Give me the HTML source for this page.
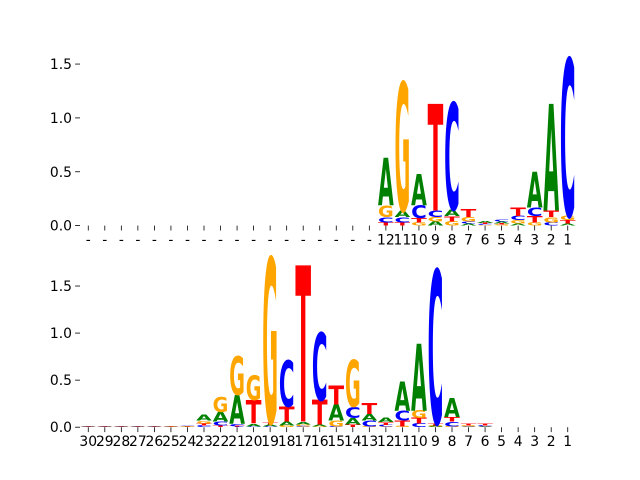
<!DOCTYPE html>
<html><head><meta charset="utf-8">
<style>
html,body{margin:0;padding:0;background:#fff;}
svg{display:block;}
.tick{font-family:"DejaVu Sans","Liberation Sans",sans-serif;font-size:13.9px;fill:#000;}
</style></head>
<body>
<svg id="chart" width="640" height="480" xmlns="http://www.w3.org/2000/svg"></svg>
<script>
const bases = ['A','C','G','T'];
const colors = {A:'#008000',C:'#0000ff',G:'#ffa500',T:'#ff0000'};

const topLabels = ['-','-','-','-','-','-','-','-','-','-','-','-','-','-','-','-','-','-','12','11','10','9','8','7','6','5','4','3','2','1'];
const topA = [0,0,0,0,0,0,0,0,0,0,0,0,0,0,0,0,0,0, 0.44,0.06,0.29,0.04,0.06,0.02,0.02,0.02,0.02,0.33,0.99,0.02];
const topC = [0,0,0,0,0,0,0,0,0,0,0,0,0,0,0,0,0,0, 0.05,0.05,0.12,0.06,0.99,0.02,0.01,0.02,0.04,0.08,0.03,1.46];
const topG = [0,0,0,0,0,0,0,0,0,0,0,0,0,0,0,0,0,0, 0.11,1.19,0.03,0.04,0.04,0.04,0.005,0.01,0.03,0.03,0.05,0.04];
const topT = [0,0,0,0,0,0,0,0,0,0,0,0,0,0,0,0,0,0, 0.03,0.03,0.04,0.99,0.05,0.07,0.01,0.01,0.08,0.06,0.06,0.03];
const topYTicks = [0,0.5,1.0,1.5];
const topYLabels = ['0.0','0.5','1.0','1.5'];

const botLabels = ['30','29','28','27','26','25','24','23','22','21','20','19','18','17','16','15','14','13','12','11','10','9','8','7','6','5','4','3','2','1'];
const botA = [0.003,0.003,0.003,0.003,0.003,0.003,0.004,0.06,0.10,0.30,0.03,0.02,0.04,0.03,0.02,0.17,0.07,0.07,0.05,0.31,0.71,0.01,0.20,0.003,0.005,0.002,0.002,0.002,0.002,0.002];
const botC = [0.003,0.003,0.003,0.003,0.003,0.004,0.006,0.02,0.04,0.03,0.01,0.01,0.49,0.01,0.72,0.01,0.12,0.06,0.02,0.10,0.04,1.63,0.05,0.004,0.01,0.002,0.002,0.002,0.002,0.002];
const botG = [0.003,0.003,0.003,0.003,0.003,0.003,0.004,0.03,0.16,0.41,0.26,1.75,0.02,0.02,0.01,0.06,0.50,0.01,0.005,0.01,0.08,0.01,0.01,0.01,0.005,0.002,0.002,0.002,0.002,0.002];
const botT = [0.003,0.003,0.003,0.003,0.003,0.004,0.004,0.02,0.02,0.01,0.25,0.02,0.16,1.66,0.26,0.20,0.03,0.12,0.03,0.06,0.06,0.02,0.05,0.02,0.02,0.002,0.002,0.002,0.002,0.002];
const botYTicks = [0,0.5,1.0,1.5];
const botYLabels = ['0.0','0.5','1.0','1.5'];

const NS='http://www.w3.org/2000/svg';
const svg=document.getElementById('chart');
const AX_L=80, AX_R=576, NPOS=30;
function xScale(i){return AX_L+(i+0.5)*(AX_R-AX_L)/NPOS;}
const step=(AX_R-AX_L)/NPOS;

function drawPanel(name,top,bottom,ymax,labels,A,C,G,T,yticks,ylabels){
  const g=document.createElementNS(NS,'g');
  
  
  svg.appendChild(g);
  const yScale=v=>bottom-v*(bottom-top)/ymax;
  for(let i=0;i<NPOS;i++){
    const vals={A:A[i],C:C[i],G:G[i],T:T[i]};
    const order=bases.slice().sort((a,b)=>vals[a]-vals[b]);
    let cum=0;
    const w=step*0.95, x0=xScale(i)-w/2;
    for(const b of order){
      const h=vals[b];
      if(h<=0){continue;}
      const yb=yScale(cum), yt=yScale(cum+h);
      const ph=yb-yt;
      cum+=h;
      const t=document.createElementNS(NS,'text');
      
      
      t.setAttribute('x',0);t.setAttribute('y',0);
      t.setAttribute('font-family','DejaVu Sans, Liberation Sans, sans-serif');
      t.setAttribute('font-weight','bold');
      t.setAttribute('font-size','100');
      t.setAttribute('textLength',w);
      t.setAttribute('lengthAdjust','spacingAndGlyphs');
      t.setAttribute('fill',colors[b]);
      t.setAttribute('transform','translate('+x0+','+yb+') scale(1,'+(ph/72.9)+')');
      t.textContent=b;
      g.appendChild(t);
    }
  }
  for(let i=0;i<NPOS;i++){
    const x=xScale(i);
    const l=document.createElementNS(NS,'line');
    
    
    l.setAttribute('x1',x);l.setAttribute('x2',x);l.setAttribute('y1',bottom);l.setAttribute('y2',bottom+4.9);
    l.setAttribute('stroke','#000');l.setAttribute('stroke-width','0.8');
    g.appendChild(l);
    const t=document.createElementNS(NS,'text');
    
    
    t.setAttribute('class','tick');
    t.setAttribute('x',x);t.setAttribute('y',bottom+19);
    t.setAttribute('text-anchor','middle');
    t.textContent=labels[i];
    g.appendChild(t);
  }
  for(let k=0;k<yticks.length;k++){
    const y=yScale(yticks[k]);
    const l=document.createElementNS(NS,'line');
    
    
    l.setAttribute('x1',AX_L-4.9);l.setAttribute('x2',AX_L);l.setAttribute('y1',y);l.setAttribute('y2',y);
    l.setAttribute('stroke','#000');l.setAttribute('stroke-width','0.8');
    g.appendChild(l);
    const t=document.createElementNS(NS,'text');
    
    
    t.setAttribute('class','tick');
    t.setAttribute('x',AX_L-8);t.setAttribute('y',y+5);
    t.setAttribute('text-anchor','end');
    t.textContent=ylabels[k];
    g.appendChild(t);
  }
}
drawPanel('top-logo-panel',57.6,225.6,1.56,topLabels,topA,topC,topG,topT,topYTicks,topYLabels);
drawPanel('bottom-logo-panel',259.2,427.2,1.785,botLabels,botA,botC,botG,botT,botYTicks,botYLabels);
</script>
</body></html>
